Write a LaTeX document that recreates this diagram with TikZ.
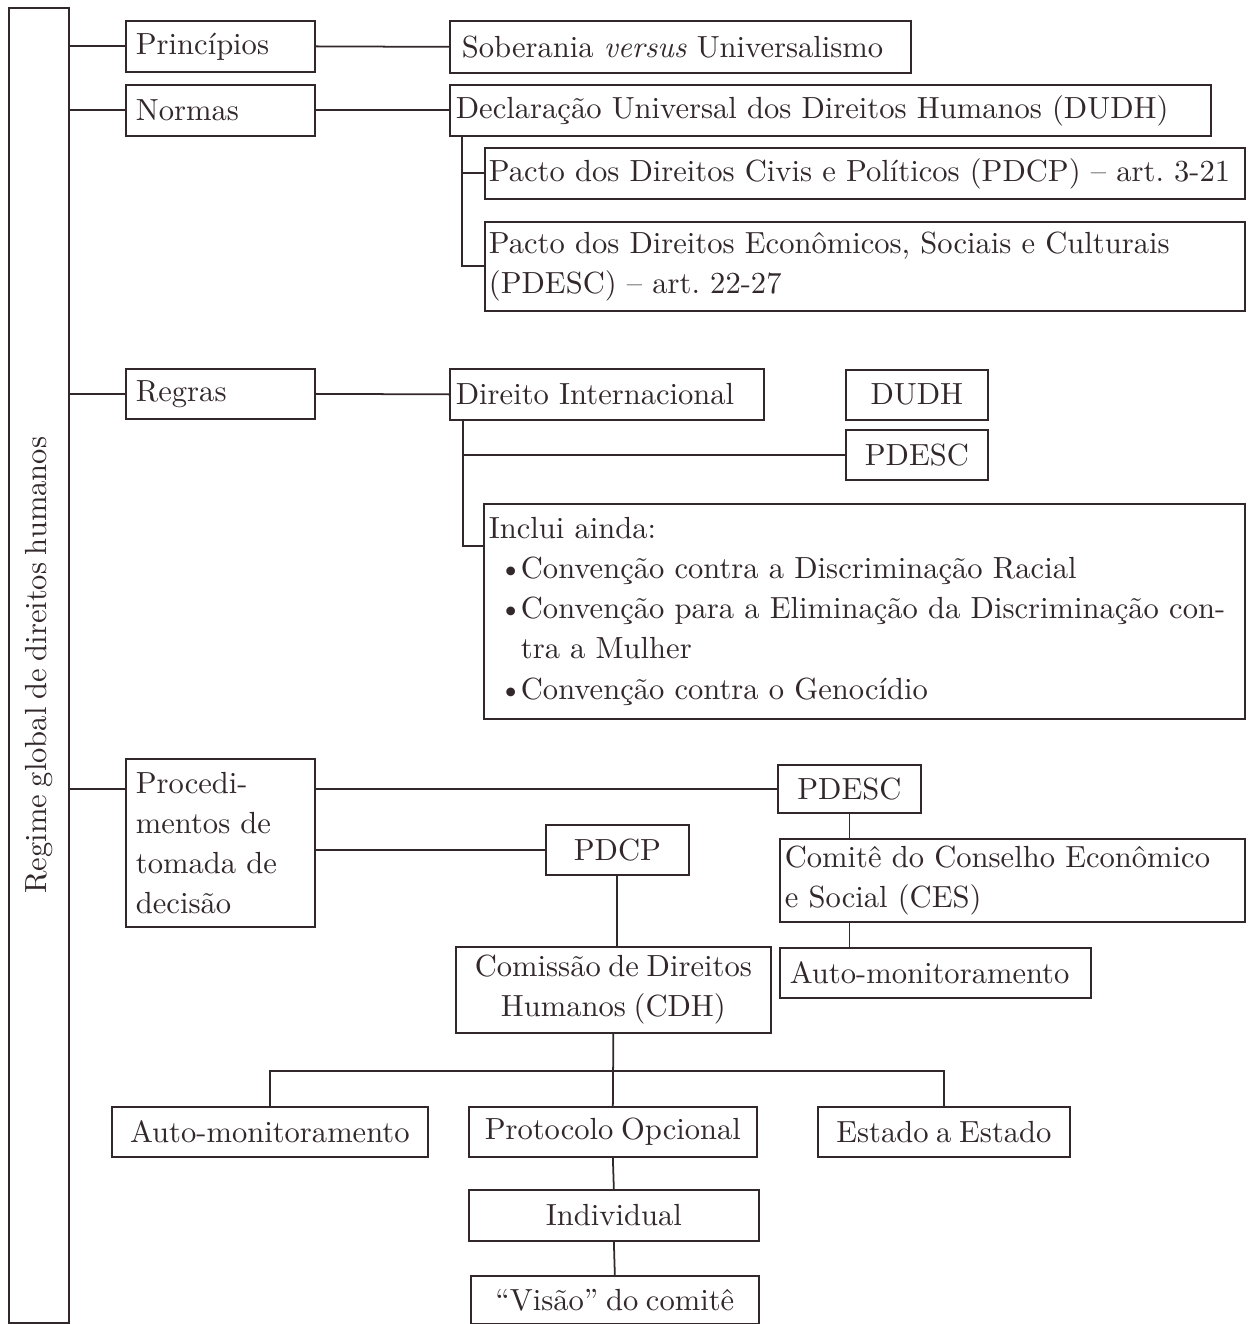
\documentclass[tikz,border=0pt]{standalone}
\usepackage{fontspec}
\setmainfont{lmroman10-regular.otf}[ItalicFont=lmroman10-italic.otf, BoldFont=lmroman10-bold.otf]
\usepackage{tikz}
\definecolor{ink}{RGB}{50,40,43}
\frenchspacing
\newcommand{\boxfont}{\fontsize{17.4}{22.8}\selectfont\spaceskip=0.25em plus 0.1em minus 0.05em\relax}
\tikzset{
  every node/.style={font=\boxfont, text=ink},
  lbox/.style={draw=ink, line width=1pt, inner xsep=0.2cm, inner ysep=0pt, align=left, anchor=north west},
  cbox/.style={draw=ink, line width=1pt, inner xsep=0.1cm, inner ysep=0pt, align=center, anchor=north west},
  link/.style={draw=ink, line width=1pt}
}
\begin{document}
\begin{tikzpicture}[x=0.02cm, y=-0.02cm]
        \useasboundingbox (0,0) rectangle (1247,1324);
        \node [cbox, minimum width=1.2cm, minimum height=26.3cm] (reg) at (8,7) {};
        \node [rotate=90] (regtxt) at (reg.center) {Regime global de direitos humanos};
        \node [lbox, text width=3.38cm, minimum height=1.02cm] (princ) at (125,20) {Princípios};
        \node [lbox, text width=3.38cm, minimum height=1.02cm] (normas) at (125,84) {Normas};
        \node [lbox, text width=3.38cm, minimum height=1.0cm] (regras) at (125,368) {Regras};
        \node [lbox, text width=3.38cm, minimum height=3.36cm] (proc) at (125,758) {Procedi-\\mentos de\\tomada de\\decisão};
        \node [lbox, text width=8.74cm, minimum height=1.04cm, inner xsep=0.24cm] (sober) at (449,20) {Soberania \textit{versus} Universalismo};
        \node [lbox, text width=14.98cm, minimum height=1.02cm, inner xsep=0.12cm] (dudh) at (449,84) {\mbox{Declaração Universal dos Direitos Humanos (DUDH)}};
        \node [lbox, text width=15.04cm, minimum height=1.02cm, inner xsep=0.08cm] (pdcp) at (484,147) {\mbox{Pacto dos Direitos Civis e Políticos (PDCP) – art. 3-21}};
        \node [lbox, text width=15.04cm, minimum height=1.78cm, inner xsep=0.08cm] (pdesc) at (484,221) {Pacto dos Direitos Econômicos, Sociais e Culturais\\(PDESC) – art. 22-27};
        \node [lbox, text width=6.04cm, minimum height=1.02cm, inner xsep=0.12cm] (dirint) at (449,368) {Direito Internacional};
        \node [cbox, minimum width=2.84cm, minimum height=1.0cm] (rdudh) at (845,369) {DUDH};
        \node [cbox, minimum width=2.84cm, minimum height=1.0cm] (rpdesc) at (845,429) {PDESC};
        \node [lbox, text width=15.02cm, minimum height=4.3cm, inner xsep=0.1cm] (inclui) at (483,503) {Inclui ainda:\\
          \hspace*{0.2cm}\makebox[0.44cm][l]{•}\mbox{Convenção contra a Discriminação Racial}\\
          \hspace*{0.2cm}\makebox[0.44cm][l]{•}\mbox{Convenção para a Eliminação da Discriminação con-}\\
          \hspace*{0.64cm}tra a Mulher\\
          \hspace*{0.2cm}\makebox[0.44cm][l]{•}Convenção contra o Genocídio};
        \node [cbox, minimum width=2.86cm, minimum height=0.96cm] (ppdesc) at (777,764) {PDESC};
        \node [cbox, minimum width=2.86cm, minimum height=1.0cm] (ppdcp) at (545,824) {PDCP};
        \node [lbox, text width=9.1cm, minimum height=1.66cm, inner xsep=0.1cm] (ces) at (779,838) {Comitê do Conselho Econômico\\e Social (CES)};
        \node [lbox, text width=5.82cm, minimum height=1.0cm] (autoces) at (779,947) {Auto-monitoramento};
        \node [cbox, minimum width=6.3cm, minimum height=1.72cm] (cdh) at (455,946) {Comissão de Direitos\\Humanos (CDH)};
        \node [cbox, minimum width=6.32cm, minimum height=1.0cm] (autocdh) at (111,1106) {Auto-monitoramento};
        \node [cbox, minimum width=5.76cm, minimum height=1.0cm] (prot) at (468,1106) {Protocolo Opcional};
        \node [cbox, minimum width=5.04cm, minimum height=1.0cm] (estado) at (817,1106) {Estado a Estado};
        \node [cbox, minimum width=5.8cm, minimum height=1.02cm] (indiv) at (468,1189) {Individual};
        \node [cbox, minimum width=5.76cm, minimum height=0.96cm] (visao) at (470,1275) {“Visão” do comitê};
        \draw [link] (reg.east |- princ.west) -- (princ.west);
        \draw [link] (reg.east |- normas.west) -- (normas.west);
        \draw [link] (reg.east |- regras.west) -- (regras.west);
        \draw [link] (reg.east |- ppdesc.west) -- (proc.west |- ppdesc.west);
        \draw [link] (princ.east) -- (sober.west);
        \draw [link] (normas.east) -- (dudh.west);
        \coordinate (dtop) at ([xshift=0.26cm]dudh.south west);
        \draw [link] (dtop) |- (pdcp.west);
        \draw [link] (dtop) |- (pdesc.west);
        \draw [link] (regras.east) -- (dirint.west);
        \coordinate (itop) at ([xshift=0.28cm]dirint.south west);
        \draw [link] (itop) |- (rpdesc.west);
        \draw [link] (itop) |- ([yshift=-0.86cm]inclui.north west);
        \draw [link] (proc.east |- ppdesc.west) -- (ppdesc.west);
        \draw [link] (proc.east |- ppdcp.west) -- (ppdcp.west);
        \draw [link] (ppdesc.south) -- (ppdesc.south |- ces.north);
        \draw [link] (ppdesc.south |- ces.south) -- (ppdesc.south |- autoces.north);
        \draw [link] (ppdcp.south) -- (ppdcp.south |- cdh.north);
        \path (cdh.south) ++(0,37) coordinate (jn);
        \draw [link] (cdh.south) -- (prot.north);
        \draw [link] (autocdh.north) |- (jn) -| (estado.north);
        \draw [link] (prot.south) -- (indiv.north);
        \draw [link] (indiv.south) -- (visao.north);
\end{tikzpicture}
\end{document}
